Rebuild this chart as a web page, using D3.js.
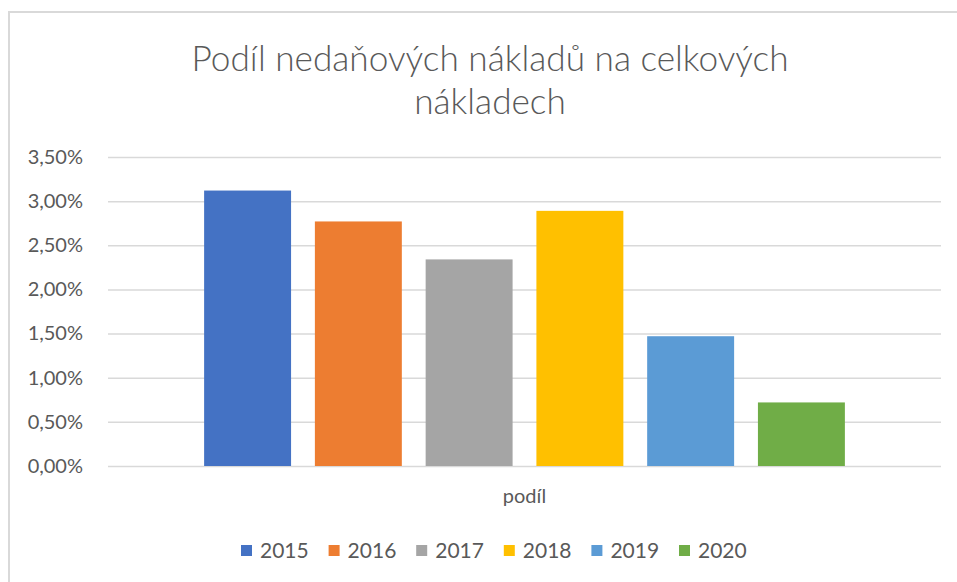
<!DOCTYPE html>
<html>
<head>
<meta charset="utf-8">
<script src="https://cdn.jsdelivr.net/npm/d3@7"></script>
<style>
	body { margin: 0; background: #fff; }
	#graphic { width: 957px; height: 582px; }
	text { font-family: Lato, "Open Sans", sans-serif; fill: #595959; }
</style>
</head>
<body>
<div id="graphic"></div>
<script>
// chart data
const category = 'podíl';
const years = ['2015', '2016', '2017', '2018', '2019', '2020'];
const values = [0.0312, 0.0277, 0.0234, 0.0289, 0.0147, 0.0072];
const colours = ['#4472C4', '#ED7D31', '#A5A5A5', '#FFC000', '#5B9BD5', '#70AD47'];
const yTicks = [0, 0.005, 0.01, 0.015, 0.02, 0.025, 0.03, 0.035];
const titleLines = ['Podíl nedaňových nákladů na celkových', 'nákladech'];

const graphicData = years.map((d, i) => ({ year: d, value: values[i], colour: colours[i] }));

const width = 957, height = 582;
const margin = { top: 157, right: 16, bottom: 116, left: 108 };
const chartWidth = width - margin.left - margin.right;
const chartHeight = height - margin.top - margin.bottom;

// czech number format: decimal comma
const cz = d3.formatLocale({ decimal: ',', thousands: ' ', grouping: [3], currency: ['', ' Kč'] });
const pct = cz.format('.2%');

let svg = d3.select('#graphic').append('svg')
	.attr('width', width)
	.attr('height', height);

// chart area border
svg.append('rect')
	.attr('x', 9).attr('y', 12)
	.attr('width', width + 20).attr('height', height + 20)
	.attr('fill', 'none')
	.attr('stroke', '#d9d9d9')
	.attr('stroke-width', 2);

// title
svg.append('text')
	.attr('text-anchor', 'middle')
	.attr('font-size', 35.2)
	.attr('font-weight', 300)
	.selectAll('tspan')
	.data(titleLines)
	.join('tspan')
	.attr('x', 490)
	.attr('y', (d, i) => 71 + i * 43)
	.text(d => d);

let g = svg.append('g').attr('transform', `translate(${margin.left},${margin.top})`);

const y = d3.scaleLinear().domain([0, 0.035]).range([chartHeight, 0]);

//outer band for the single category, inner band for the years
const x0 = d3.scaleBand().domain([category]).range([0, chartWidth]).paddingInner(0).paddingOuter(0.15);
const x1 = d3.scaleBand().domain(years).range([0, x0.bandwidth()]).paddingInner(0.215).paddingOuter(0);

let yAxis = d3.axisLeft(y)
	.tickValues(yTicks)
	.tickSize(-chartWidth)
	.tickPadding(25)
	.tickFormat(pct);

g.append('g')
	.attr('class', 'y axis')
	.call(yAxis)
	.call(s => s.select('.domain').remove())
	.call(s => s.selectAll('line').attr('stroke', '#d9d9d9').attr('stroke-width', 1.5))
	.call(s => s.selectAll('text').attr('font-size', 20).attr('fill', '#595959')
		.style('font-family', 'Lato, sans-serif'));

g.append('g')
	.selectAll('rect')
	.data(graphicData)
	.join('rect')
	.attr('x', d => x0(category) + x1(d.year))
	.attr('y', d => y(d.value))
	.attr('width', x1.bandwidth())
	.attr('height', d => y(0) - y(d.value))
	.attr('fill', d => d.colour);

// category label
g.append('text')
	.attr('x', x0(category) + x0.bandwidth() / 2)
	.attr('y', chartHeight + 37)
	.attr('text-anchor', 'middle')
	.attr('font-size', 20)
	.text(category);

// legend
const legendStep = 87.6;
const legendX = d3.scalePoint().domain(years).range([241, 241 + legendStep * 5]);
let legend = svg.append('g')
	.selectAll('g')
	.data(graphicData)
	.join('g')
	.attr('transform', d => `translate(${legendX(d.year)},545)`);

legend.append('rect')
	.attr('width', 11).attr('height', 11)
	.attr('fill', d => d.colour);

legend.append('text')
	.attr('x', 19)
	.attr('y', 13)
	.attr('font-size', 21)
	.text(d => d.year);
</script>
</body>
</html>
